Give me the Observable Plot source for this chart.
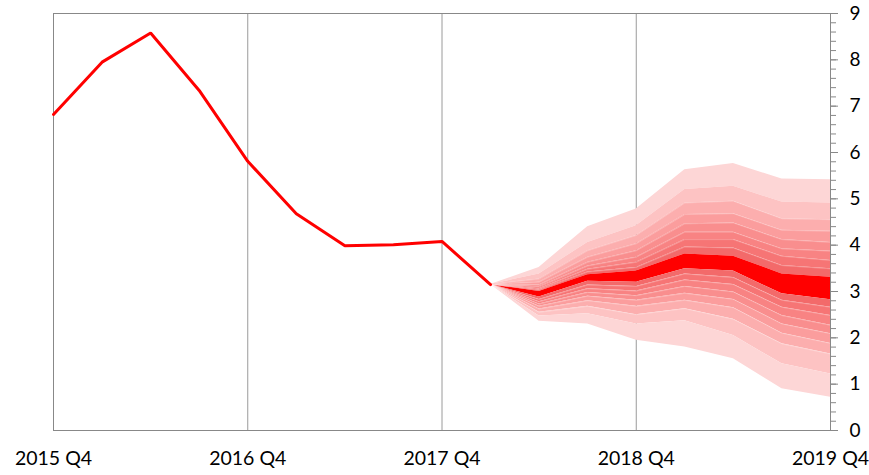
<!DOCTYPE html>
<html>
<head>
<meta charset="utf-8">
<script src="https://cdn.jsdelivr.net/npm/d3@7"></script>
<script src="https://cdn.jsdelivr.net/npm/@observablehq/plot@0.6"></script>
<style>
  html, body { margin: 0; padding: 0; background: #fff; }
  #chart svg { display: block; font-family: Lato, "Open Sans", sans-serif; }
</style>
</head>
<body>
<div id="chart"></div>
<script>
// Quarter labels (index 0 = 2015 Q4)
const quarterLabels = ["2015 Q4","2016 Q1","2016 Q2","2016 Q3","2016 Q4","2017 Q1","2017 Q2","2017 Q3","2017 Q4",
  "2018 Q1","2018 Q2","2018 Q3","2018 Q4","2019 Q1","2019 Q2","2019 Q3","2019 Q4"];
const xTickLabels = ["2015 Q4","2016 Q4","2017 Q4","2018 Q4","2019 Q4"];

// Historical outturns 2015 Q4 .. 2018 Q1
const history = [6.82, 7.95, 8.58, 7.34, 5.81, 4.68, 3.99, 4.01, 4.08, 3.15];

// Fan chart boundaries (top to bottom) for each forecast quarter, starting at 2018 Q1
const fanQuarters = ["2018 Q1","2018 Q2","2018 Q3","2018 Q4","2019 Q1","2019 Q2","2019 Q3","2019 Q4"];
const fan2018Q1 = [3.15,3.15,3.15,3.15,3.15,3.15,3.15,3.15,3.15,3.15,3.15,3.15,3.15,3.15,3.15,3.15,3.15,3.15];
const fan2018Q2 = [3.52,3.38,3.27,3.20,3.14,3.10,3.06,3.03,3.00,2.88,2.83,2.78,2.73,2.68,2.62,2.55,2.47,2.36];
const fan2018Q3 = [4.40,4.06,3.88,3.74,3.63,3.55,3.48,3.42,3.36,3.22,3.14,3.06,2.98,2.90,2.80,2.68,2.52,2.30];
const fan2018Q4 = [4.78,4.42,4.21,4.03,3.88,3.74,3.63,3.52,3.44,3.20,3.11,3.01,2.91,2.81,2.68,2.50,2.30,1.95];
const fan2019Q1 = [5.63,5.20,4.91,4.66,4.46,4.28,4.12,3.96,3.81,3.49,3.38,3.25,3.11,2.96,2.81,2.63,2.37,1.80];
const fan2019Q2 = [5.76,5.27,4.95,4.68,4.48,4.28,4.12,3.94,3.76,3.44,3.30,3.15,2.99,2.83,2.65,2.40,2.05,1.55];
const fan2019Q3 = [5.43,4.93,4.57,4.32,4.12,3.92,3.76,3.56,3.38,2.95,2.81,2.66,2.48,2.30,2.10,1.87,1.44,0.90];
const fan2019Q4 = [5.41,4.91,4.55,4.30,4.06,3.87,3.67,3.49,3.31,2.82,2.66,2.48,2.27,2.09,1.88,1.65,1.22,0.72];
const fanBoundaries = [fan2018Q1, fan2018Q2, fan2018Q3, fan2018Q4, fan2019Q1, fan2019Q2, fan2019Q3, fan2019Q4];

// Band shades, outermost to innermost, then centre
const bandShades = ["#fdd6d6","#fdc3c3","#fcaeae","#fb9d9d","#f98e8e","#f88383","#f67575","#f36a6a"];
const centreShade = "#ff0000";

const yTicks = [0,1,2,3,4,5,6,7,8,9];
const yMinorTicks = d3.range(0, 9.001, 0.2).map(v => +v.toFixed(1));

// Build tables
const histData = history.map((v, i) => ({q: i, v}));
const nBands = fanBoundaries[0].length - 1; // 17
const bandColor = b => b === 8 ? centreShade : bandShades[b < 8 ? b : 16 - b];
const bandData = [];
for (let b = 0; b < nBands; b++) {
  fanBoundaries.forEach((arr, k) => {
    bandData.push({band: b, q: quarterLabels.indexOf(fanQuarters[k]), hi: arr[b], lo: arr[b + 1], color: bandColor(b)});
  });
}
const sepData = [];
for (let j = 1; j < fanBoundaries[0].length - 1; j++) {
  if (j === 8 || j === 9 || j === 1 || j === 16) continue;
  fanBoundaries.forEach((arr, k) => sepData.push({line: j, q: quarterLabels.indexOf(fanQuarters[k]), v: arr[j]}));
}
const xTickIdx = xTickLabels.map(l => quarterLabels.indexOf(l));

const chart = Plot.plot({
  width: 869,
  height: 475,
  marginLeft: 53,
  marginRight: 39,
  marginTop: 13,
  marginBottom: 45,
  x: {domain: [0, 16], axis: null, label: null},
  y: {domain: [0, 9], axis: null, label: null},
  marks: [
    Plot.ruleX(xTickIdx.slice(1, -1), {stroke: "#9a9a9a", strokeWidth: 1}),
    Plot.areaY(bandData, {x: "q", y1: "lo", y2: "hi", z: "band", fill: "color", curve: "linear"}),
    Plot.line(sepData, {x: "q", y: "v", z: "line", stroke: "#ffffff", strokeOpacity: 0.35, strokeWidth: 0.7}),
    Plot.frame({stroke: "#888888", strokeWidth: 1}),
    Plot.line(histData, {x: "q", y: "v", stroke: "#ff0000", strokeWidth: 3, strokeLinejoin: "miter"}),
    Plot.axisY(yMinorTicks, {anchor: "right", tickSize: 5, stroke: "#888888", tickFormat: () => "", strokeWidth: 1, label: null}),
    Plot.axisY(yTicks, {anchor: "right", tickSize: 7, tickPadding: 12, stroke: "#888888", fontSize: 19, fill: "#000", tickFormat: d => String(d), label: null}),
    Plot.axisX(xTickIdx, {anchor: "bottom", tickSize: 0, tickPadding: 21, fontSize: 19.5, fill: "#000", tickFormat: d => quarterLabels[d], label: null})
  ]
});
document.getElementById("chart").appendChild(chart);
</script>
</body>
</html>
